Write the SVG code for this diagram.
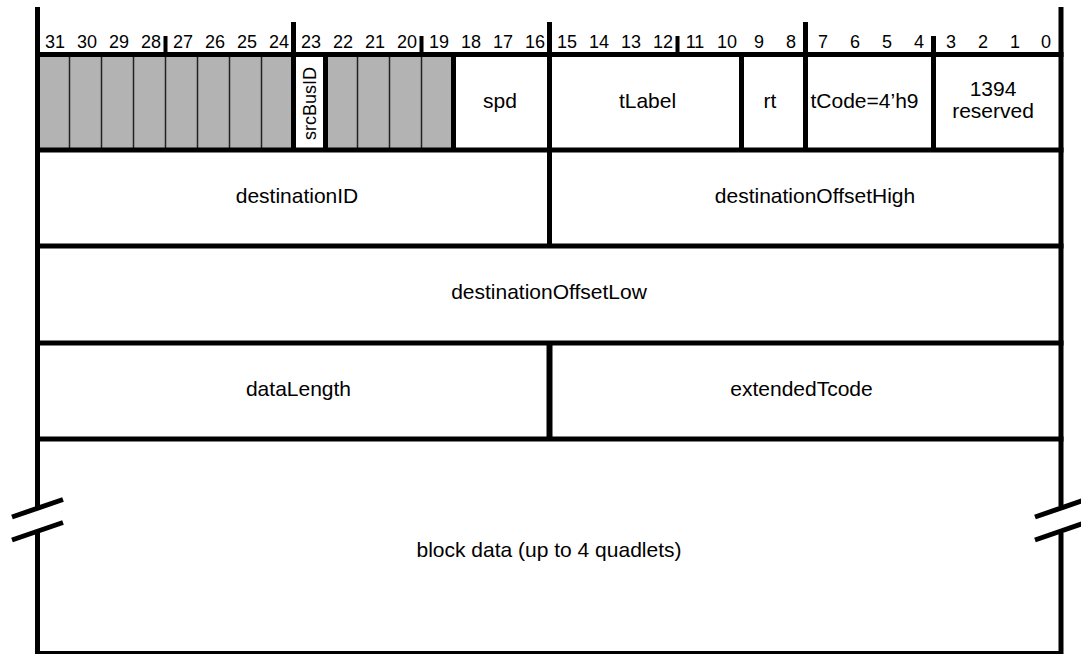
<svg xmlns="http://www.w3.org/2000/svg" width="1081" height="654" viewBox="0 0 1081 654">
<style>
.b{stroke:#000;stroke-width:5;fill:none}
.t{stroke:#000;stroke-width:4;fill:none}
.th{stroke:#222;stroke-width:1.5;fill:none}
.g{fill:#b3b3b3}
.lbl{font-family:"Liberation Sans",Arial,sans-serif;font-size:21px;fill:#000;text-anchor:middle}
.num{font-family:"Liberation Sans",Arial,sans-serif;font-size:18px;fill:#000;text-anchor:middle}
</style>
<rect width="1081" height="654" fill="#fff"/>
<g id="reserved-bits">
<rect class="g" x="37.5" y="54.5" width="256" height="95.5"/>
<rect class="g" x="325.5" y="54.5" width="128" height="95.5"/>
<path class="th" d="M69.5 54.5V150M101.5 54.5V150M133.5 54.5V150M165.5 54.5V150M197.5 54.5V150M229.5 54.5V150M261.5 54.5V150M357.5 54.5V150M389.5 54.5V150M421.5 54.5V150"/>
</g>
<g id="bit-numbers">
<text class="num" x="55" y="48">31</text>
<text class="num" x="87" y="48">30</text>
<text class="num" x="119" y="48">29</text>
<text class="num" x="151" y="48">28</text>
<text class="num" x="183" y="48">27</text>
<text class="num" x="215" y="48">26</text>
<text class="num" x="247" y="48">25</text>
<text class="num" x="279" y="48">24</text>
<text class="num" x="311" y="48">23</text>
<text class="num" x="343" y="48">22</text>
<text class="num" x="375" y="48">21</text>
<text class="num" x="407" y="48">20</text>
<text class="num" x="439" y="48">19</text>
<text class="num" x="471" y="48">18</text>
<text class="num" x="503" y="48">17</text>
<text class="num" x="535" y="48">16</text>
<text class="num" x="567" y="48">15</text>
<text class="num" x="599" y="48">14</text>
<text class="num" x="631" y="48">13</text>
<text class="num" x="663" y="48">12</text>
<text class="num" x="695" y="48">11</text>
<text class="num" x="727" y="48">10</text>
<text class="num" x="759" y="48">9</text>
<text class="num" x="791" y="48">8</text>
<text class="num" x="823" y="48">7</text>
<text class="num" x="855" y="48">6</text>
<text class="num" x="887" y="48">5</text>
<text class="num" x="919" y="48">4</text>
<text class="num" x="951" y="48">3</text>
<text class="num" x="983" y="48">2</text>
<text class="num" x="1015" y="48">1</text>
<text class="num" x="1046" y="48">0</text>
</g>
<g id="frame">
<path class="b" d="M37.5 7V508M37.5 531V654M1061 7V506M1061 533V654"/>
<path class="b" d="M35 54.5H1063.5M35 150H1063.5M35 246H1063.5M35 343H1063.5M35 439H1063.5"/>
<path stroke="#000" stroke-width="3" d="M36 652.5H1063"/>
<path class="b" d="M293.5 22V150M549.5 22V246M805.5 22V150M933.5 36V150M325.5 54.5V150M453.5 54.5V150M741.5 54.5V150"/>
<path class="t" d="M165.5 36V54.5M421.5 36V54.5M677.5 36V54.5"/>
<path stroke="#000" stroke-width="6" d="M549.5 343V439"/>
<path class="b" d="M12 517L63 499.5M12 540L63 522.5M1035 517L1086 499.5M1035 540L1086 522.5"/>
</g>
<g id="srcBusID"><text class="num" transform="translate(316 103.5) rotate(-90)" x="0" y="0">srcBusID</text></g>
<g id="spd"><text class="lbl" x="500" y="108">spd</text></g>
<g id="tLabel"><text class="lbl" x="647.5" y="108">tLabel</text></g>
<g id="rt"><text class="lbl" x="770" y="108">rt</text></g>
<g id="tCode"><text class="lbl" x="864.5" y="108">tCode=4’h9</text></g>
<g id="reserved1394"><text class="lbl" x="993" y="96">1394</text><text class="lbl" x="993" y="118">reserved</text></g>
<g id="destinationID"><text class="lbl" x="297" y="203">destinationID</text></g>
<g id="destinationOffsetHigh"><text class="lbl" x="815" y="203">destinationOffsetHigh</text></g>
<g id="destinationOffsetLow"><text class="lbl" x="549" y="299">destinationOffsetLow</text></g>
<g id="dataLength"><text class="lbl" x="298.5" y="396">dataLength</text></g>
<g id="extendedTcode"><text class="lbl" x="801.5" y="396">extendedTcode</text></g>
<g id="blockData"><text class="lbl" x="549" y="557">block data (up to 4 quadlets)</text></g>
</svg>
